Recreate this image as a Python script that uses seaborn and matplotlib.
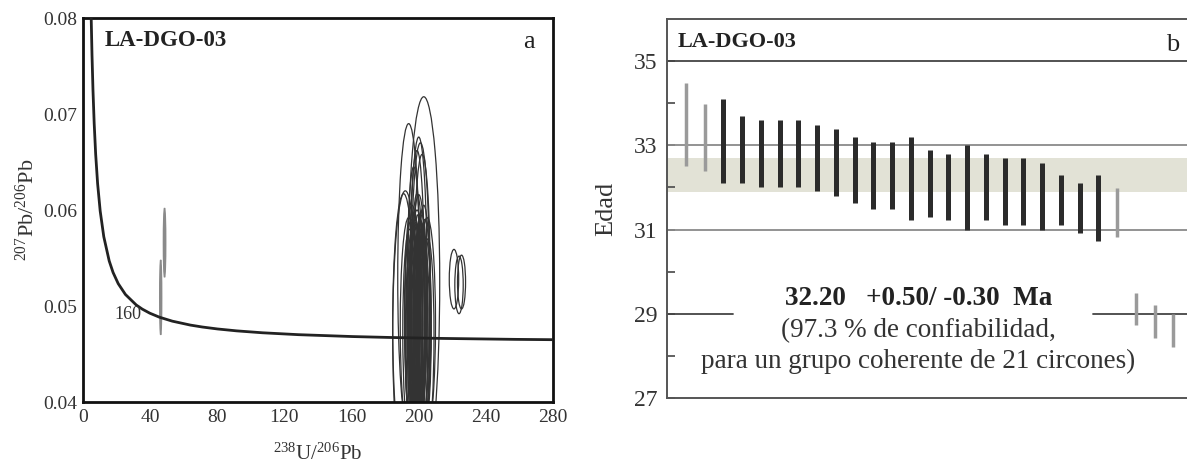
import numpy as np
import pandas as pd
import seaborn as sns
import matplotlib
matplotlib.use("Agg")
import matplotlib.pyplot as plt
from matplotlib.patches import Ellipse

sns.set_theme(style="white")
plt.rcParams["font.family"] = ["Liberation Serif", "DejaVu Serif"]
plt.rcParams["mathtext.fontset"] = "custom"
plt.rcParams["mathtext.rm"] = "Liberation Serif"
plt.rcParams["mathtext.it"] = "Liberation Serif:italic"
plt.rcParams["mathtext.bf"] = "Liberation Serif:bold"

# ---- Tera-Wasserburg concordia (ages in Ma) ----
concordia_ages = [18, 20, 25, 30, 35, 40, 50, 60, 70, 80, 90, 100, 120, 140, 160,
                  180, 200, 250, 300, 350, 400, 500, 600, 700, 800, 900, 1000,
                  1100, 1200, 1300, 1400]
LAMBDA_238 = 1.55125e-10
LAMBDA_235 = 9.8485e-10
U_RATIO = 137.88

# ---- zircon error ellipses: centre (238U/206Pb, 207Pb/206Pb), semi-axes ----
ell_x = [203, 194, 200, 201, 199, 202, 197, 191, 196, 203, 199, 194, 205, 198,
         201, 196, 200, 203, 197, 199, 201, 195, 202, 198, 192,
         197.5, 200.5, 199.5, 202.5, 196.5, 198.5, 201.5, 199, 204,
         195.5, 203.5, 198, 200, 205.5, 194.5,
         221, 224, 225.5]
ell_y = [0.0525, 0.0530, 0.0520, 0.0515, 0.0512, 0.0510, 0.0505, 0.0480, 0.0490,
         0.0490, 0.0485, 0.0480, 0.0482, 0.0478, 0.0475, 0.0470, 0.0472, 0.0468,
         0.0480, 0.0462, 0.0490, 0.0465, 0.0500, 0.0495, 0.0470,
         0.0488, 0.0483, 0.0495, 0.0478, 0.0472, 0.0468, 0.0492, 0.0505, 0.0475,
         0.0482, 0.0486, 0.0475, 0.0498, 0.0470, 0.0474,
         0.0528, 0.0522, 0.0525]
ell_a = [9.5, 6.5, 5.0, 5.5, 4.5, 5.0, 4.0, 6.5, 4.5, 4.0, 4.5, 5.0, 5.0, 4.0,
         4.5, 3.5, 3.5, 3.5, 3.0, 3.5, 3.0, 3.0, 3.0, 3.0, 7.5,
         3.2, 3.4, 2.8, 3.0, 3.3, 2.9, 3.1, 3.6, 3.5,
         3.8, 3.9, 4.2, 4.4, 3.6, 4.0,
         2.8, 2.5, 2.4]
ell_b = [0.0193, 0.0160, 0.0156, 0.0155, 0.0150, 0.0148, 0.0140, 0.0137, 0.0115,
         0.0115, 0.0115, 0.0112, 0.0110, 0.0112, 0.0113, 0.0108, 0.0105, 0.0100,
         0.0098, 0.0095, 0.0100, 0.0090, 0.0095, 0.0090, 0.0150,
         0.0110, 0.0105, 0.0100, 0.0098, 0.0102, 0.0094, 0.0107, 0.0112, 0.0096,
         0.0108, 0.0104, 0.0112, 0.0118, 0.0100, 0.0106,
         0.0031, 0.0030, 0.0028]
# inherited grains (grey)
inh_x = [46.3, 48.6]
inh_y = [0.0509, 0.0566]
inh_a = [0.6, 0.7]
inh_b = [0.0039, 0.0036]

# ---- individual 206Pb/238U ages with error bars (Ma) ----
age_top = [34.48, 33.99, 34.09, 33.69, 33.59, 33.59, 33.59, 33.48, 33.39, 33.19,
           33.09, 33.09, 33.19, 32.89, 32.79, 33.00, 32.79, 32.69, 32.69, 32.59,
           32.30, 32.10, 32.30, 31.99, 29.49, 29.20, 29.00]
age_bot = [32.52, 32.40, 32.11, 32.11, 32.02, 32.02, 32.02, 31.92, 31.80, 31.62,
           31.50, 31.50, 31.22, 31.30, 31.22, 31.00, 31.22, 31.12, 31.12, 31.00,
           31.12, 30.91, 30.72, 30.83, 28.74, 28.43, 28.22]
in_group = [False, False] + [True] * 21 + [False] * 4

mean_age = 32.20
err_plus = 0.50
err_minus = 0.30

dark = "#2b2b2b"
grey = "#9a9a9a"
txt = "#333333"

fig = plt.figure(figsize=(11.87, 4.66), dpi=100)
axa = fig.add_axes([0.0699, 0.1373, 0.396, 0.824])
axb = fig.add_axes([0.5620, 0.1459, 0.4400, 0.8133])

# ================= panel a =================
t = np.array(concordia_ages) * 1e6
conc = pd.DataFrame({
    "u_pb": 1.0 / (np.exp(LAMBDA_238 * t) - 1.0),
    "pb_pb": (np.exp(LAMBDA_235 * t) - 1.0) / (np.exp(LAMBDA_238 * t) - 1.0) / U_RATIO,
})
sns.lineplot(data=conc, x="u_pb", y="pb_pb", ax=axa, color="#222222", lw=2.0,
             sort=False, estimator=None, zorder=3)

for x, y, a, b in zip(ell_x, ell_y, ell_a, ell_b):
    axa.add_patch(Ellipse((x, y), 2 * a, 2 * b, fill=False, ec="#333333",
                          lw=0.9, zorder=2))
for x, y, a, b in zip(inh_x, inh_y, inh_a, inh_b):
    axa.add_patch(Ellipse((x, y), 2 * a, 2 * b, fill=True, fc="#8a8a8a",
                          ec="#8a8a8a", lw=1.0, zorder=2))

axa.set_xlim(0, 280)
axa.set_ylim(0.04, 0.08)
axa.set_xticks(np.arange(0, 281, 40))
axa.set_xticks(np.arange(0, 281, 20), minor=True)
axa.set_yticks([0.04, 0.05, 0.06, 0.07, 0.08])
axa.set_yticks(np.arange(0.04, 0.0801, 0.005), minor=True)
axa.set_yticklabels(["0.04", "0.05", "0.06", "0.07", "0.08"])
axa.tick_params(which="both", direction="in", color="#111111", labelsize=14,
                labelcolor=txt, width=1.5, pad=5)
axa.tick_params(axis="y", pad=4)
axa.tick_params(which="major", length=5)
axa.tick_params(which="minor", length=3)
for s in axa.spines.values():
    s.set_color("#111111")
    s.set_linewidth(2.0)
axa.set_xlabel(r"$^{238}$U/$^{206}$Pb", fontsize=15, color=txt, labelpad=13)
axa.set_ylabel(r"$^{207}$Pb/$^{206}$Pb", fontsize=16, color=txt, labelpad=3)
axa.text(13, 0.0777, "LA-DGO-03", fontsize=16.5, fontweight="bold", color="#222222",
         va="center", ha="left")
axa.text(269, 0.0775, "a", fontsize=19, color="#222222", va="center", ha="right")
axa.text(35, 0.0491, "160", fontsize=13, color=txt, va="center", ha="right")

# ================= panel b =================
n = len(age_top)
idx = np.arange(1, n + 1)
axb.axhspan(mean_age - err_minus, mean_age + err_plus, color="#e2e2d6", lw=0, zorder=0)
axb.axhline(35, color="#444444", lw=1.3, zorder=1)
axb.axhline(33, color="#8a8a8a", lw=1.3, zorder=1)
axb.axhline(31, color="#8a8a8a", lw=1.3, zorder=1)
axb.plot([0, 3.5], [29, 29], color="#444444", lw=1.3, zorder=1)
axb.plot([22.7, 28], [29, 29], color="#444444", lw=1.3, zorder=1)

for i, top, bot, g in zip(idx, age_top, age_bot, in_group):
    axb.vlines(i, bot, top, color=dark if g else grey, lw=3.6 if g else 2.5, zorder=3)

axb.set_xlim(0, 27.85)
axb.set_ylim(27, 36)
axb.set_xticks([])
axb.set_yticks([27, 29, 31, 33, 35])
axb.set_yticks([28, 30, 32, 34], minor=True)
axb.tick_params(which="both", direction="in", color="#555555", length=6, width=1.3,
                labelsize=17, labelcolor=txt, pad=7, left=True)
axb.spines["right"].set_visible(False)
for k in ("left", "top", "bottom"):
    axb.spines[k].set_color("#555555")
    axb.spines[k].set_linewidth(1.4)
axb.set_ylabel("Edad", fontsize=19, color=txt, labelpad=12)
axb.text(0.55, 35.45, "LA-DGO-03", fontsize=16, fontweight="bold", color="#222222",
         va="center", ha="left")
axb.text(26.95, 35.39, "b", fontsize=19, color="#222222", va="center", ha="center")
axb.text(13.4, 29.36, f"{mean_age:.2f}   +{err_plus:.2f}/ -{err_minus:.2f}  Ma",
         fontsize=19.5, fontweight="bold", color="#222222", ha="center", va="center")
axb.text(13.4, 28.60, "(97.3 % de confiabilidad,", fontsize=19.5, color=txt,
         ha="center", va="center")
axb.text(13.4, 27.88, "para un grupo coherente de 21 circones)", fontsize=19.5,
         color=txt, ha="center", va="center")

fig.savefig("out.png", dpi=100)
